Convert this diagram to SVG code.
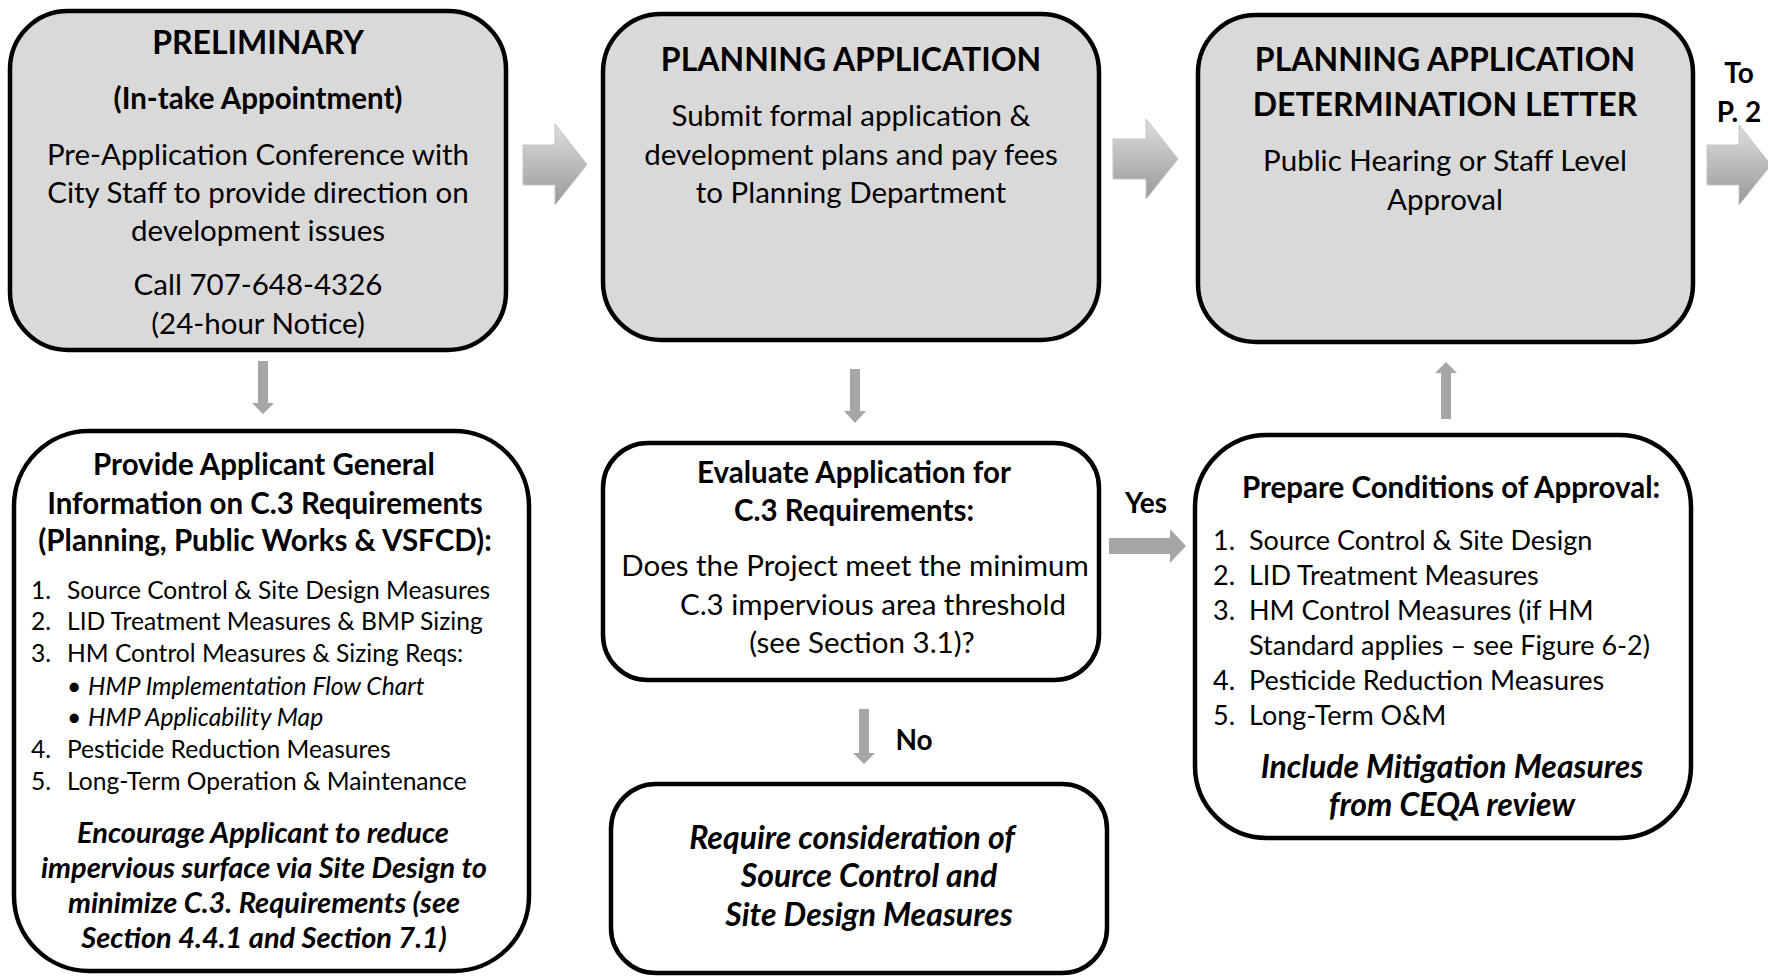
<svg xmlns="http://www.w3.org/2000/svg" width="1768" height="977" viewBox="0 0 1768 977">
<defs>
<linearGradient id="g" x1="0" y1="0" x2="0" y2="1">
<stop offset="0" stop-color="#dedede"/>
<stop offset="1" stop-color="#989898"/>
</linearGradient>
<style>
.box{fill:#d9d9d9;stroke:#000;stroke-width:4.5}
.wbox{fill:#fff;stroke:#000;stroke-width:4.5}
.t{font-family:Lato,"Liberation Sans",sans-serif;fill:#000}
.c{text-anchor:middle}
.b{font-weight:bold}
.i{font-style:italic}
.h{font-size:32px}
.r{font-size:29.5px}
.s4{font-size:29px}
.big{font-size:32px}
.l{font-size:24.6px}
.l6{font-size:27px}
.yn{font-size:28px}
.ga{fill:url(#g);stroke:#c4c4c4;stroke-width:1}
.sa{fill:#a6a6a6}
</style>
</defs>
<g id="connectors">
<polygon class="ga" points="523,145 555,145 555,124 587,164.5 555,205 555,185 523,185"/>
<polygon class="ga" points="1113,139 1146,139 1146,119 1178,159 1146,199 1146,179 1113,179"/>
<polygon class="ga" points="1707,145 1739,145 1739,125 1771,165 1739,205 1739,185 1707,185"/>
<polygon class="sa" points="258,361 268,361 268,403 274,403 263,414 252,403 258,403"/>
<polygon class="sa" points="850,369 860,369 860,411 866,411 855,423 844,411 850,411"/>
<polygon class="sa" points="1441,419 1451,419 1451,373 1457,373 1446,362 1435,373 1441,373"/>
<polygon class="sa" points="859,709 869,709 869,753 875,753 864,764 853,753 859,753"/>
<polygon class="sa" points="1109,538 1170,538 1170,529 1186,546 1170,563 1170,554 1109,554"/>
<text class="t b c yn" x="1146" y="513">Yes</text>
<text class="t b c yn" x="914" y="750">No</text>
<text class="t b c yn" x="1739" y="83">To</text>
<text class="t b c yn" x="1739" y="122">P. 2</text>
</g>
<g id="preliminary">
<rect class="box" x="10" y="11" width="496" height="339" rx="58"/>
<text class="t b c h" x="258" y="54">PRELIMINARY</text>
<text class="t b c r" x="258" y="109">(In-take Appointment)</text>
<text class="t c r" x="258" y="165">Pre-Application Conference with</text>
<text class="t c r" x="258" y="203">City Staff to provide direction on</text>
<text class="t c r" x="258" y="241">development issues</text>
<text class="t c r" x="258" y="295">Call 707-648-4326</text>
<text class="t c r" x="258" y="334">(24-hour Notice)</text>
</g>
<g id="planning-application">
<rect class="box" x="603" y="14" width="496" height="326" rx="58"/>
<text class="t b c h" x="851" y="71">PLANNING APPLICATION</text>
<text class="t c r" x="851" y="126">Submit formal application &amp;</text>
<text class="t c r" x="851" y="165">development plans and pay fees</text>
<text class="t c r" x="851" y="203">to Planning Department</text>
</g>
<g id="determination-letter">
<rect class="box" x="1198" y="15" width="495" height="327" rx="58"/>
<text class="t b c h" x="1445" y="71">PLANNING APPLICATION</text>
<text class="t b c h" x="1445" y="116">DETERMINATION LETTER</text>
<text class="t c r" x="1445" y="171">Public Hearing or Staff Level</text>
<text class="t c r" x="1445" y="210">Approval</text>
</g>
<g id="general-information">
<rect class="wbox" x="14" y="431" width="515" height="540" rx="75"/>
<text class="t b c r" x="264" y="475">Provide Applicant General</text>
<text class="t b c r" x="265" y="514">Information on C.3 Requirements</text>
<text class="t b c r" x="265" y="551">(Planning, Public Works &amp; VSFCD):</text>
<text class="t l" x="31" y="599">1.</text><text class="t l" x="67" y="599">Source Control &amp; Site Design Measures</text>
<text class="t l" x="31" y="630">2.</text><text class="t l" x="67" y="630">LID Treatment Measures &amp; BMP Sizing</text>
<text class="t l" x="31" y="662">3.</text><text class="t l" x="67" y="662">HM Control Measures &amp; Sizing Reqs:</text>
<text class="t l" x="67" y="695">•</text><text class="t l i" x="88" y="695">HMP Implementation Flow Chart</text>
<text class="t l" x="67" y="726">•</text><text class="t l i" x="88" y="726">HMP Applicability Map</text>
<text class="t l" x="31" y="758">4.</text><text class="t l" x="67" y="758">Pesticide Reduction Measures</text>
<text class="t l" x="31" y="790">5.</text><text class="t l" x="67" y="790">Long-Term Operation &amp; Maintenance</text>
<text class="t b i c s4" x="263" y="843">Encourage Applicant to reduce</text>
<text class="t b i c s4" x="264" y="878">impervious surface via Site Design to</text>
<text class="t b i c s4" x="264" y="913">minimize C.3. Requirements (see</text>
<text class="t b i c s4" x="264" y="948">Section 4.4.1 and Section 7.1)</text>
</g>
<g id="evaluate-application">
<rect class="wbox" x="603" y="443" width="496" height="237" rx="45"/>
<text class="t b c r" x="854" y="483">Evaluate Application for</text>
<text class="t b c r" x="854" y="521">C.3 Requirements:</text>
<text class="t c r" x="855" y="576">Does the Project meet the minimum</text>
<text class="t c r" x="873" y="615">C.3 impervious area threshold</text>
<text class="t c r" x="862" y="653">(see Section 3.1)?</text>
</g>
<g id="require-consideration">
<rect class="wbox" x="611" y="784" width="496" height="189" rx="45"/>
<text class="t b i c big" x="852" y="849">Require consideration of</text>
<text class="t b i c big" x="869" y="887">Source Control and</text>
<text class="t b i c big" x="869" y="926">Site Design Measures</text>
</g>
<g id="conditions-of-approval">
<rect class="wbox" x="1195" y="435" width="496" height="403" rx="72"/>
<text class="t b c r" x="1451" y="498">Prepare Conditions of Approval:</text>
<text class="t l6" x="1213" y="550">1.</text><text class="t l6" x="1249" y="550">Source Control &amp; Site Design</text>
<text class="t l6" x="1213" y="585">2.</text><text class="t l6" x="1249" y="585">LID Treatment Measures</text>
<text class="t l6" x="1213" y="620">3.</text><text class="t l6" x="1249" y="620">HM Control Measures (if HM</text>
<text class="t l6" x="1249" y="655">Standard applies – see Figure 6-2)</text>
<text class="t l6" x="1213" y="690">4.</text><text class="t l6" x="1249" y="690">Pesticide Reduction Measures</text>
<text class="t l6" x="1213" y="725">5.</text><text class="t l6" x="1249" y="725">Long-Term O&amp;M</text>
<text class="t b i c big" x="1452" y="778">Include Mitigation Measures</text>
<text class="t b i c big" x="1452" y="816">from CEQA review</text>
</g>
</svg>
